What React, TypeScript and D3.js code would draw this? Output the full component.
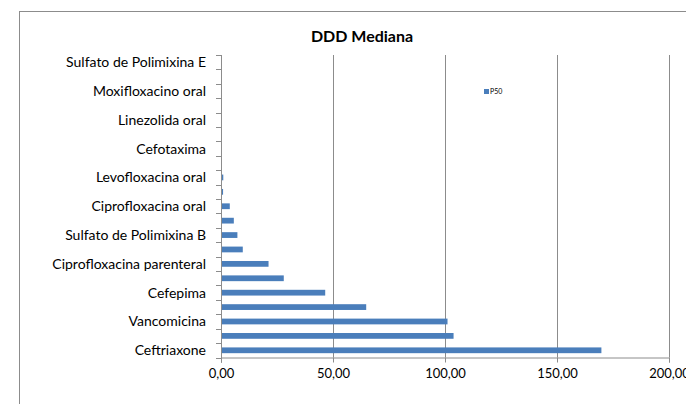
import { useRef, useEffect } from "react";
import * as d3 from "d3";

// categories from top to bottom, as Excel lists them (only every second one is labelled)
const categories = [
  "Sulfato de Polimixina E",
  "Tigeciclina",
  "Moxifloxacino oral",
  "Ertapenem",
  "Linezolida oral",
  "Teicoplanina",
  "Cefotaxima",
  "Amicacina",
  "Levofloxacina oral",
  "Gentamicina",
  "Ciprofloxacina oral",
  "Imipenem",
  "Sulfato de Polimixina B",
  "Ampicilina/Sulbactam",
  "Ciprofloxacina parenteral",
  "Oxacilina",
  "Cefepima",
  "Meropenem",
  "Vancomicina",
  "Piperacilina/Tazobactam",
  "Ceftriaxone",
];

const p50 = [
  0, 0, 0, 0, 0, 0, 0.1, 0.2, 0.8, 0.7, 3.7, 5.5, 7.1, 9.5, 21.0, 27.8, 46.3,
  64.6, 100.9, 103.6, 169.6,
];

const xTicks = [0, 50, 100, 150, 200];

const W = 686;
const H = 404;
const FONT = "Lato, 'Open Sans', sans-serif";

export default function App() {
  const svgRef = useRef<SVGSVGElement>(null);

  useEffect(() => {
    if (!svgRef.current) return;
    const svg = d3.select(svgRef.current);
    svg.selectAll("*").remove();

    const margin = { top: 55, left: 221, right: 17, bottom: 46.5 };
    const plotW = W - margin.left - margin.right;
    const plotH = H - margin.top - margin.bottom;

    // chart area border
    svg.append("rect")
      .attr("x", 19.5).attr("y", 11.5)
      .attr("width", 700).attr("height", 420)
      .attr("fill", "#fff").attr("stroke", "#8c8c8c").attr("stroke-width", 1);

    svg.append("text")
      .attr("x", 362).attr("y", 42)
      .attr("text-anchor", "middle")
      .attr("font-family", FONT).attr("font-size", "16px").attr("font-weight", "700")
      .attr("fill", "#000")
      .text("DDD Mediana");

    const g = svg.append("g").attr("transform", `translate(${margin.left},${margin.top})`);

    const x = d3.scaleLinear().domain([0, 200]).range([0, plotW]);
    const y = d3.scaleBand<string>().domain(categories).range([0, plotH]).paddingInner(0.6).paddingOuter(0.3);
    const band = d3.scaleBand<string>().domain(categories).range([0, plotH]);

    // gridlines
    g.selectAll(".grid")
      .data(xTicks.slice(1))
      .join("line")
      .attr("x1", (d) => Math.round(x(d)) + 0.5).attr("x2", (d) => Math.round(x(d)) + 0.5)
      .attr("y1", 0).attr("y2", plotH)
      .attr("stroke", "#8c8c8c");

    // bars
    g.selectAll(".bar")
      .data(categories)
      .join("rect")
      .attr("x", 0.5)
      .attr("y", (d) => y(d) ?? 0)
      .attr("width", (_, i) => x(p50[i]))
      .attr("height", y.bandwidth())
      .attr("fill", "#4a7ebb");

    // x axis
    const xAxis = g.append("g")
      .attr("transform", `translate(0,${plotH})`)
      .call(d3.axisBottom(x).tickValues(xTicks).tickSize(5).tickPadding(6)
        .tickFormat((d) => d3.format(".2f")(d as number).replace(".", ",")));
    xAxis.select(".domain").attr("stroke", "#8c8c8c");
    xAxis.selectAll(".tick line").attr("stroke", "#8c8c8c");
    xAxis.selectAll(".tick text")
      .attr("font-family", FONT).attr("font-size", "13px").attr("fill", "#000");

    // y axis: ticks between categories, labels every second category
    const yAxisG = g.append("g");
    yAxisG.append("line")
      .attr("x1", 0.5).attr("x2", 0.5).attr("y1", 0).attr("y2", plotH + 5)
      .attr("stroke", "#8c8c8c");
    const edges = categories.map((c) => band(c) ?? 0).concat([plotH]);
    yAxisG.selectAll(".ytick")
      .data(edges)
      .join("line")
      .attr("x1", -5).attr("x2", 0.5)
      .attr("y1", (d) => Math.round(d) + 0.5).attr("y2", (d) => Math.round(d) + 0.5)
      .attr("stroke", "#8c8c8c");
    yAxisG.selectAll(".ylabel")
      .data(categories.filter((_, i) => i % 2 === 0))
      .join("text")
      .attr("x", -15)
      .attr("y", (d) => (band(d) ?? 0) + band.bandwidth() / 2)
      .attr("dy", "0.35em")
      .attr("text-anchor", "end")
      .attr("font-family", FONT).attr("font-size", "14px").attr("fill", "#000")
      .text((d) => d);

    // legend
    svg.append("rect")
      .attr("x", 484).attr("y", 89).attr("width", 5).attr("height", 5)
      .attr("fill", "#4a7ebb");
    svg.append("text")
      .attr("x", 490).attr("y", 94)
      .attr("font-family", FONT).attr("font-size", "7px").attr("fill", "#000")
      .text("P50");
  }, []);

  return (
    <svg
      ref={svgRef}
      width={W}
      height={H}
      style={{ position: "absolute", left: 0, top: 0, display: "block", background: "#fff" }}
    />
  );
}
